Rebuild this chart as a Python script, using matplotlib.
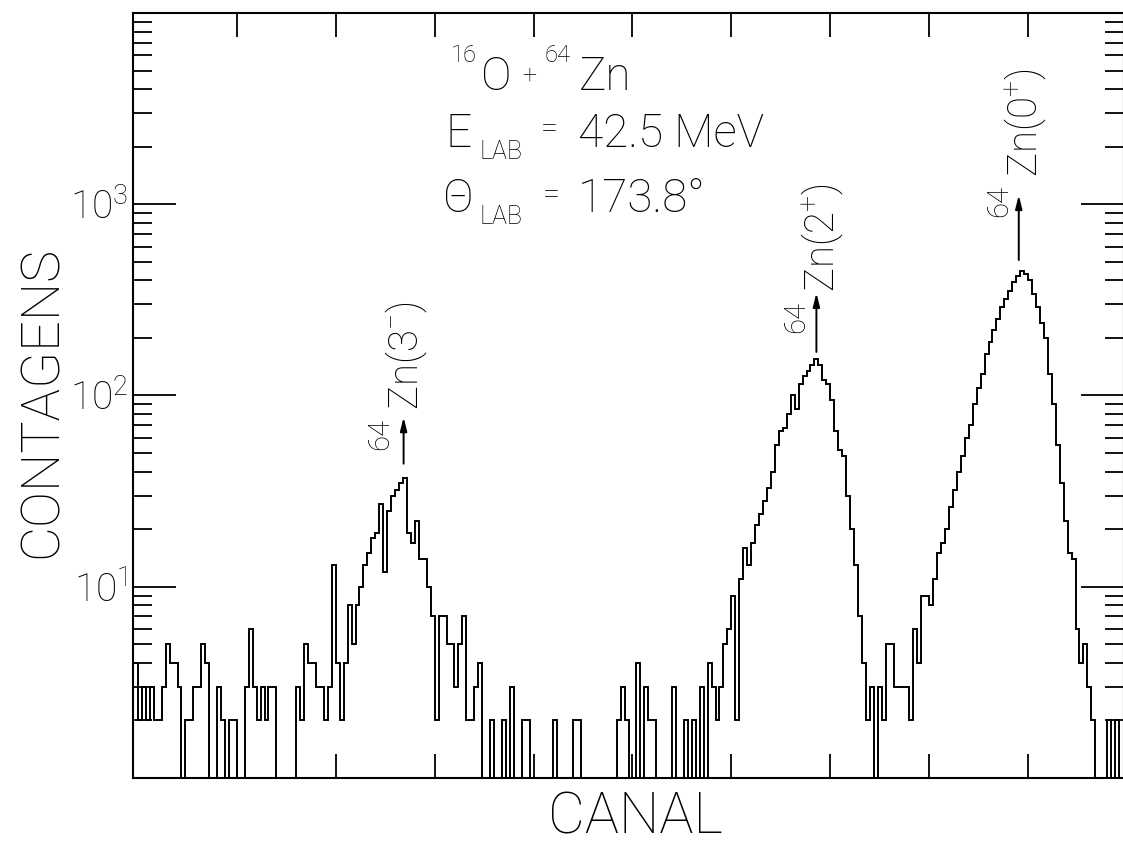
import numpy as np
import matplotlib
matplotlib.use("Agg")
import matplotlib.pyplot as plt
from matplotlib.ticker import FixedLocator, FixedFormatter, LogLocator, NullFormatter, NullLocator

# ---------------- data ----------------
bin_width = 4          # channels per bin
first_edge = -4        # left edge of the first bin (channel)
counts = [
    4, 2, 3, 2, 3, 2, 2, 3, 5, 4,
    4, 3, 1, 2, 2, 3, 3, 5, 4, 1,
    1, 3, 2, 1, 2, 2, 1, 1, 3, 6,
    3, 2, 3, 2, 3, 3, 1, 1, 1, 1,
    1, 3, 2, 5, 4, 4, 3, 3, 2, 3,
    13, 4, 2, 4, 8, 5, 8, 10, 13, 15,
    18, 19, 27, 12, 25, 30, 32, 35, 37, 19,
    17, 22, 14, 14, 10, 7, 2, 7, 7, 5,
    5, 3, 5, 7, 2, 2, 3, 4, 1, 1,
    2, 1, 1, 2, 1, 3, 1, 1, 2, 2,
    1, 1, 1, 1, 1, 1, 2, 1, 1, 1,
    1, 2, 2, 1, 1, 1, 1, 1, 1, 1,
    1, 1, 2, 3, 2, 1, 1, 4, 1, 3,
    2, 2, 1, 1, 1, 1, 3, 1, 1, 2,
    1, 2, 1, 3, 1, 4, 3, 2, 3, 5,
    6, 9, 2, 11, 16, 13, 17, 21, 24, 28,
    33, 40, 55, 65, 68, 80, 100, 85, 115, 127,
    135, 145, 155, 145, 120, 115, 95, 65, 52, 48,
    30, 20, 13, 7, 4, 2, 3, 1, 3, 2,
    5, 5, 3, 3, 3, 3, 2, 6, 4, 9,
    9, 8, 11, 15, 17, 20, 26, 32, 40, 48,
    60, 70, 90, 110, 130, 165, 190, 220, 250, 290,
    320, 350, 390, 420, 450, 430, 400, 340, 290, 240,
    200, 130, 90, 55, 35, 22, 15, 14, 6, 4,
    5, 3, 2, 1, 1, 1, 2, 1, 2, 1,
]
y_ticks = [10, 100, 1000]
y_tick_labels = [r"$10^{1}$", r"$10^{2}$", r"$10^{3}$"]
x_ticks = [100, 200, 300, 400, 500, 600, 700, 800, 900]

peak_names = [r"Zn(3$^{-}$)", r"Zn(2$^{+}$)", r"Zn(0$^{+}$)"]
peak_mass = ["64", "64", "64"]
peak_channel = [268.6, 686.0, 890.6]

# ---------------- style ----------------
plt.rcParams["font.family"] = ["Roboto", "DejaVu Sans"]
plt.rcParams["font.weight"] = "light"
plt.rcParams["axes.labelweight"] = "light"
plt.rcParams["mathtext.fontset"] = "custom"
plt.rcParams["mathtext.rm"] = "Roboto:light"
plt.rcParams["mathtext.it"] = "Roboto:light"
plt.rcParams["mathtext.sf"] = "Roboto:light"
plt.rcParams["mathtext.bf"] = "Roboto:bold"

W, H = 1123, 846
fig = plt.figure(figsize=(W / 100, H / 100), dpi=100)
# right spine sits just past the picture's edge, as in the reference
ax = fig.add_axes([133 / W, 1 - 778 / H, 991 / W, 765 / H])

edges = first_edge + bin_width * np.arange(len(counts) + 1)
ax.stairs(counts, edges, baseline=None, color="black", lw=1.4)

ax.set_yscale("log")
ax.set_ylim(1, 1e4)
ax.set_xlim(-5, 997)

ax.yaxis.set_major_locator(FixedLocator(y_ticks))
ax.yaxis.set_major_formatter(FixedFormatter(y_tick_labels))
ax.yaxis.set_minor_locator(LogLocator(base=10, subs=np.arange(2, 10)))
ax.yaxis.set_minor_formatter(NullFormatter())
ax.xaxis.set_major_locator(FixedLocator(x_ticks))
ax.xaxis.set_minor_locator(NullLocator())

ax.tick_params(axis="y", which="major", direction="in", length=31, width=1.3,
               left=True, right=True, labelsize=28, pad=3.6)
ax.tick_params(axis="y", which="minor", direction="in", length=14, width=1.3,
               left=True, right=True)
ax.tick_params(axis="x", which="major", direction="in", length=17, width=1.3,
               top=True, bottom=True, labelbottom=False)
for sp in ax.spines.values():
    sp.set_linewidth(1.5)

# axis labels
ax.set_xlabel("CANAL", fontsize=41, fontweight="light")
ax.xaxis.label.set_va("baseline")
ax.xaxis.set_label_coords((635 - 133) / 991, (778 - 833) / 765)
ax.set_ylabel("CONTAGENS", fontsize=39, fontweight="light")
ax.yaxis.label.set_va("baseline")
ax.yaxis.set_label_coords((57 - 133) / 991, (778 - 402) / 765)

# peak annotations (arrows in data coordinates)
arrow_tail = [44, 169, 511]
arrow_head = [77, 344, 1117]
name_pos = [(282.7, 84), (703.2, 348), (908.9, 1388)]
mass_pos = [(253.4, 52), (673.8, 212), (878.5, 857)]
for ch, t, h, nm, ms, npos, mpos in zip(peak_channel, arrow_tail, arrow_head,
                                        peak_names, peak_mass, name_pos, mass_pos):
    ax.annotate("", xy=(ch, h), xytext=(ch, t),
                arrowprops=dict(arrowstyle="-|>,head_length=0.8,head_width=0.2",
                                color="black", lw=1.4, shrinkA=0, shrinkB=0))
    ax.text(npos[0], npos[1], nm, rotation=90, rotation_mode="anchor",
            ha="left", va="baseline", fontsize=29)
    ax.text(mpos[0], mpos[1], ms, rotation=90, rotation_mode="anchor",
            ha="left", va="baseline", fontsize=21)


# title block (pixel positions of the reference)
def put(s, x, y, size):
    fig.text(x / W, 1 - y / H, s, fontsize=size, ha="left", va="baseline")


put("16", 451, 62, 17)
put("O", 481, 90, 33)
put("+", 522, 83, 18)
put("64", 545, 62, 17)
put("Zn", 579, 90, 33)

put("E", 445, 147, 33)
put("LAB", 480, 159, 18)
put("=", 541, 138, 22)
put("42.5 MeV", 578, 147, 33)

put("\u0398", 443, 212, 33)
put("LAB", 480, 224, 18)
put("=", 543, 204, 22)
put("173.8\u00b0", 578, 212, 33)

fig.savefig("out.png", dpi=100)
